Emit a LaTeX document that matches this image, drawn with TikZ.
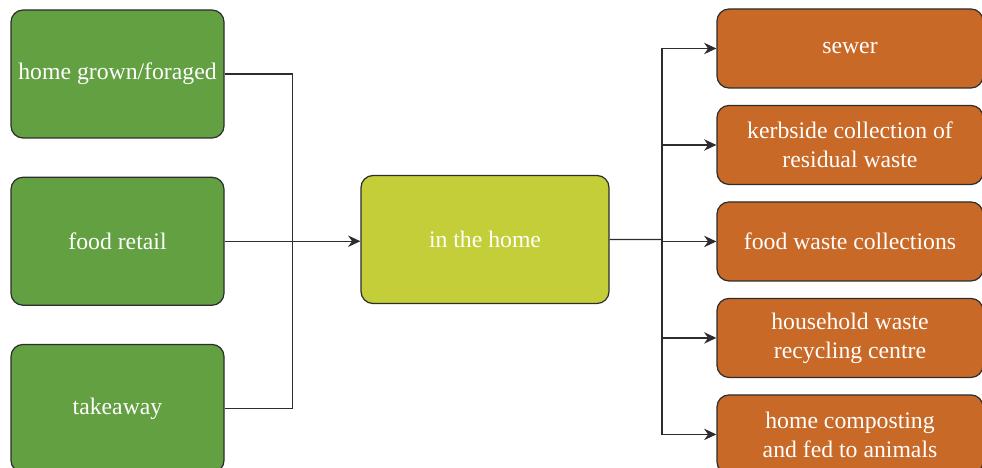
\documentclass[tikz,border=0pt]{standalone}
\usepackage{fontspec}
\setmainfont{Liberation Serif}
\usepackage{tikz}
\usetikzlibrary{arrows.meta,positioning,calc}

\definecolor{srcgreen}{RGB}{99,160,66}
\definecolor{homeyellow}{RGB}{195,206,56}
\definecolor{wasteorange}{RGB}{200,105,40}
\definecolor{linegray}{RGB}{45,45,45}

\begin{document}
\begin{tikzpicture}[
    box/.style={rectangle, rounded corners=0.24cm, draw=linegray, line width=0.7pt, text=white, align=center, inner sep=2pt, font=\fontsize{13.5}{16.5}\selectfont},
    src/.style={box, fill=srcgreen, minimum width=4.26cm, minimum height=2.56cm},
    home/.style={box, fill=homeyellow, minimum width=4.96cm, minimum height=2.56cm},
    waste/.style={box, fill=wasteorange, minimum width=5.32cm, minimum height=1.58cm},
    line/.style={draw=linegray, line width=0.75pt},
    arrow/.style={line, -{Stealth[length=7pt,width=6.5pt]}}]

    \useasboundingbox (0,0) rectangle (19.64,-9.36);

    \node[src] (grown) at (2.35,-1.48) {home grown/foraged};
    \node[src, below=0.76cm of grown] (retail) {food retail};
    \node[src, below=0.76cm of retail] (takeaway) {takeaway};

    \node[home] (inhome) at (9.70,-4.79) {in the home};

    \node[waste] (sewer) at (17.0,-0.97) {sewer};
    \node[waste, below=0.325cm of sewer] (kerbside) {kerbside collection of\\residual waste};
    \node[waste, below=0.325cm of kerbside] (foodwaste) {food waste collections};
    \node[waste, below=0.325cm of foodwaste] (hwrc) {household waste\\recycling centre};
    \node[waste, below=0.325cm of hwrc] (compost) {home composting\\and fed to animals};

    \coordinate (join) at ($(retail.east)!0.5!(inhome.west)$);
    \coordinate (split) at ($(inhome.east)!0.49!(sewer.west |- inhome.east)$);

    \draw[line] (grown.east) -| (join);
    \draw[line] (takeaway.east) -| (join);
    \draw[arrow] (retail.east) -- (retail.east -| inhome.west);
    \draw[line] (inhome.east) -- (split);
    \draw[arrow] (split) |- (sewer);
    \draw[arrow] (split) |- (kerbside);
    \draw[arrow] (split) |- (foodwaste);
    \draw[arrow] (split) |- (hwrc);
    \draw[arrow] (split) |- (compost);
\end{tikzpicture}
\end{document}
